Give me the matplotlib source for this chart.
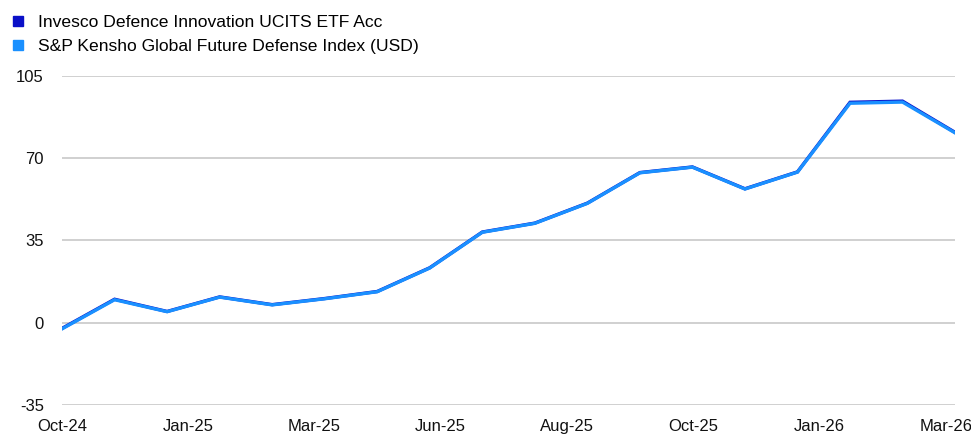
import matplotlib
matplotlib.use('Agg')
import matplotlib.pyplot as plt
from matplotlib.lines import Line2D
import numpy as np

# Chart data (monthly, Oct-24 .. Mar-26)
months = ['Oct-24', 'Nov-24', 'Dec-24', 'Jan-25', 'Feb-25', 'Mar-25', 'Apr-25', 'May-25',
          'Jun-25', 'Jul-25', 'Aug-25', 'Sep-25', 'Oct-25', 'Nov-25', 'Dec-25', 'Jan-26',
          'Feb-26', 'Mar-26']
etf_values = [-2.4, 10.0, 4.8, 11.0, 7.7, 10.3, 13.3, 23.4, 38.6, 42.4, 50.9, 63.9,
              66.3, 57.0, 64.2, 93.8, 94.3, 81.0]
index_values = [-2.6, 9.8, 4.7, 10.9, 7.6, 10.2, 13.2, 23.3, 38.5, 42.3, 50.8, 63.8,
                66.2, 56.9, 64.1, 93.4, 93.9, 80.8]
tick_labels = ['Oct-24', 'Jan-25', 'Mar-25', 'Jun-25', 'Aug-25', 'Oct-25', 'Jan-26', 'Mar-26']
y_ticks = [-35, 0, 35, 70, 105]
series_names = ['Invesco Defence Innovation UCITS ETF Acc',
                'S&P Kensho Global Future Defense Index (USD)']

plt.rcParams['font.family'] = ['Liberation Sans', 'DejaVu Sans']
plt.rcParams['axes.unicode_minus'] = False

dark_blue = '#0A10C8'
light_blue = '#1A90FF'

fig = plt.figure(figsize=(9.71, 4.36), dpi=100)
ax = fig.add_axes([0.0639, 0.0711, 0.9197, 0.7546])

x = np.arange(len(months))
ax.plot(x, etf_values, color=dark_blue, linewidth=2.4, solid_joinstyle='miter', zorder=3)
ax.plot(x, index_values, color=light_blue, linewidth=2.4, solid_joinstyle='miter', zorder=4)

ax.set_xlim(0, len(months) - 1)
ax.set_ylim(-35, 105)
ax.set_yticks(y_ticks)
# category labels are spread evenly, slightly short of the last point
step = 2.403
ax.set_xticks(np.arange(len(tick_labels)) * step)
ax.set_xticklabels(tick_labels)
ax.tick_params(axis='both', length=0, labelsize=12, colors='#111111')
ax.tick_params(axis='x', pad=10)
ax.tick_params(axis='y', pad=13)
ax.grid(True, axis='y', color='#c8c8c8', linewidth=1.2)
ax.set_axisbelow(True)
for s in ax.spines.values():
    s.set_visible(False)

handles = [Line2D([], [], marker='s', linestyle='none', markersize=6.5, color=dark_blue),
           Line2D([], [], marker='s', linestyle='none', markersize=6.5, color=light_blue)]
fig.legend(handles, series_names, loc='upper left', bbox_to_anchor=(0.008, 0.975),
           frameon=False, fontsize=12.6, handlelength=0.8, handletextpad=0.75,
           labelspacing=0.5, borderpad=0.2, borderaxespad=0)

fig.savefig('out.png', dpi=100)
